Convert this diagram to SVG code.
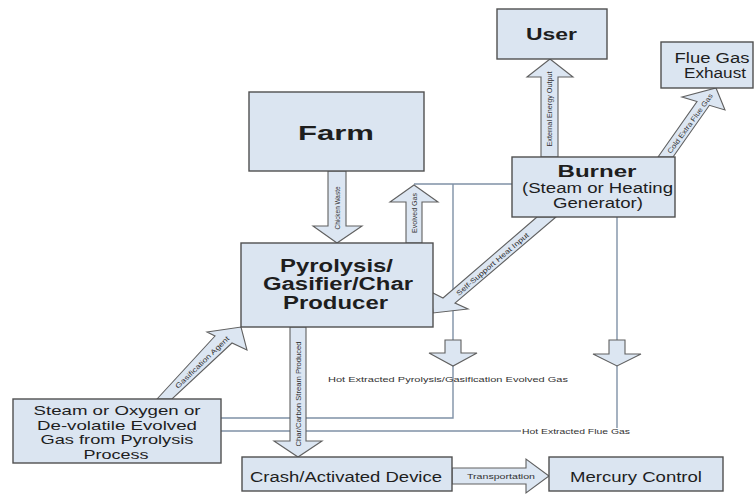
<svg xmlns="http://www.w3.org/2000/svg" width="756" height="496" viewBox="0 0 756 496">
<style>
.box{fill:#dbe5f1;stroke:#505050;stroke-width:1.4}
.arr{fill:#dce6f2;stroke:#606060;stroke-width:1.1;stroke-linejoin:miter}
.ln{fill:none;stroke:#7f91a6;stroke-width:1.4}
text{font-family:"Liberation Sans",Arial,sans-serif;fill:#1e1e1e;text-anchor:middle}
.b{font-weight:bold}
.lab{font-size:7px;fill:#333}
</style>
<rect width="756" height="496" fill="#ffffff"/>
<g id="connectors">
  <polyline class="ln" points="414,184 512,184"/>
  <polyline class="ln" points="453,184 453,418 221,418"/>
  <polyline class="ln" points="617,217 617,428"/>
  <polyline class="ln" points="221,431 521,431"/>
  <polygon class="arr" points="445,340 461,340 461,353 477,353 453,366 429,353 445,353"/>
  <polygon class="arr" points="609,340 625,340 625,354 641,354 617,366 593,354 609,354"/>
  <polygon class="arr" points="328,171 346,171 346,226 362,226 337,243 313,226 328,226"/>
  <polygon class="arr" points="406,243 406,202 390,202 414,185 438,202 422,202 422,243"/>
  <polygon class="arr" points="541,157 541,77 527,77 550,59 573,77 558,77 558,157"/>
  <polygon class="arr" points="290,327 290,441 274,441 298,457 322,441 306,441 306,327"/>
  <polygon class="arr" points="452,468 526,468 526,459 549,476 526,493 526,484 452,484"/>
  <polygon class="arr" points="157,399 215,336 207,332 241,327 247,350 232,343 172,399"/>
  <polygon class="arr" points="537,217 443,298 431,292 433,313 468,309 455,303 556,217"/>
  <polygon class="arr" points="658,157 697,101.5 682,97 716,88 725,110 709.4,105.3 673,157"/>
  <text class="lab" transform="translate(340,208) rotate(-90)" textLength="43" lengthAdjust="spacingAndGlyphs">Chicken Waste</text>
  <text class="lab" transform="translate(416.5,213) rotate(-90)" textLength="40" lengthAdjust="spacingAndGlyphs">Evolved Gas</text>
  <text class="lab" transform="translate(552,109) rotate(-90)" textLength="75" lengthAdjust="spacingAndGlyphs">External Energy Output</text>
  <text class="lab" transform="translate(300.5,394) rotate(-90)" textLength="105" lengthAdjust="spacingAndGlyphs">Char/Carbon Stream Produced</text>
  <text class="lab" transform="translate(692,125) rotate(-54)" textLength="72" lengthAdjust="spacingAndGlyphs">Cold Extra Flue Gas</text>
  <text class="lab" transform="translate(494,266) rotate(-40.5)" textLength="93" lengthAdjust="spacingAndGlyphs">Self-Support Heat Input</text>
  <text class="lab" transform="translate(204,364) rotate(-44)" textLength="72" lengthAdjust="spacingAndGlyphs">Gasification Agent</text>
  <text class="lab" x="501" y="479" textLength="68" lengthAdjust="spacingAndGlyphs">Transportation</text>
  <text class="lab" x="448" y="382" textLength="240" lengthAdjust="spacingAndGlyphs">Hot Extracted Pyrolysis/Gasification Evolved Gas</text>
  <text class="lab" x="576" y="434" textLength="108" lengthAdjust="spacingAndGlyphs">Hot Extracted Flue Gas</text>
</g>
<g id="user">
  <rect class="box" x="497" y="9" width="110" height="50"/>
  <text class="b" x="551.5" y="40" font-size="17" textLength="51" lengthAdjust="spacingAndGlyphs">User</text>
</g>
<g id="flue-gas-exhaust">
  <rect class="box" x="661" y="42" width="92" height="46"/>
  <text x="712" y="63" font-size="14" textLength="75" lengthAdjust="spacingAndGlyphs">Flue Gas</text>
  <text x="715" y="78" font-size="14" textLength="62" lengthAdjust="spacingAndGlyphs">Exhaust</text>
</g>
<g id="burner">
  <rect class="box" x="512" y="157" width="163" height="60"/>
  <text class="b" x="597" y="177" font-size="16" textLength="79" lengthAdjust="spacingAndGlyphs">Burner</text>
  <text x="597.5" y="193" font-size="14" textLength="151" lengthAdjust="spacingAndGlyphs">(Steam or Heating</text>
  <text x="598" y="208" font-size="14" textLength="90" lengthAdjust="spacingAndGlyphs">Generator)</text>
</g>
<g id="farm">
  <rect class="box" x="249" y="92" width="175" height="79"/>
  <text class="b" x="336" y="140" font-size="21" textLength="76" lengthAdjust="spacingAndGlyphs">Farm</text>
</g>
<g id="pyrolysis">
  <rect class="box" x="241" y="243" width="192" height="84"/>
  <text class="b" x="336.5" y="271.5" font-size="18" textLength="113" lengthAdjust="spacingAndGlyphs">Pyrolysis/</text>
  <text class="b" x="338" y="290" font-size="18" textLength="150" lengthAdjust="spacingAndGlyphs">Gasifier/Char</text>
  <text class="b" x="335.5" y="308.5" font-size="18" textLength="105" lengthAdjust="spacingAndGlyphs">Producer</text>
</g>
<g id="steam-oxygen">
  <rect class="box" x="13" y="399" width="208" height="64"/>
  <text x="117" y="415" font-size="13" textLength="167" lengthAdjust="spacingAndGlyphs">Steam or Oxygen or</text>
  <text x="117" y="429.5" font-size="13" textLength="160" lengthAdjust="spacingAndGlyphs">De-volatile Evolved</text>
  <text x="117" y="444" font-size="13" textLength="153" lengthAdjust="spacingAndGlyphs">Gas from Pyrolysis</text>
  <text x="116" y="458.5" font-size="13" textLength="65" lengthAdjust="spacingAndGlyphs">Process</text>
</g>
<g id="crash-device">
  <rect class="box" x="242" y="457" width="210" height="34"/>
  <text x="346" y="482" font-size="14" textLength="192" lengthAdjust="spacingAndGlyphs">Crash/Activated Device</text>
</g>
<g id="mercury-control">
  <rect class="box" x="549" y="457" width="174" height="34"/>
  <text x="636" y="482" font-size="14" textLength="132" lengthAdjust="spacingAndGlyphs">Mercury Control</text>
</g>
</svg>
